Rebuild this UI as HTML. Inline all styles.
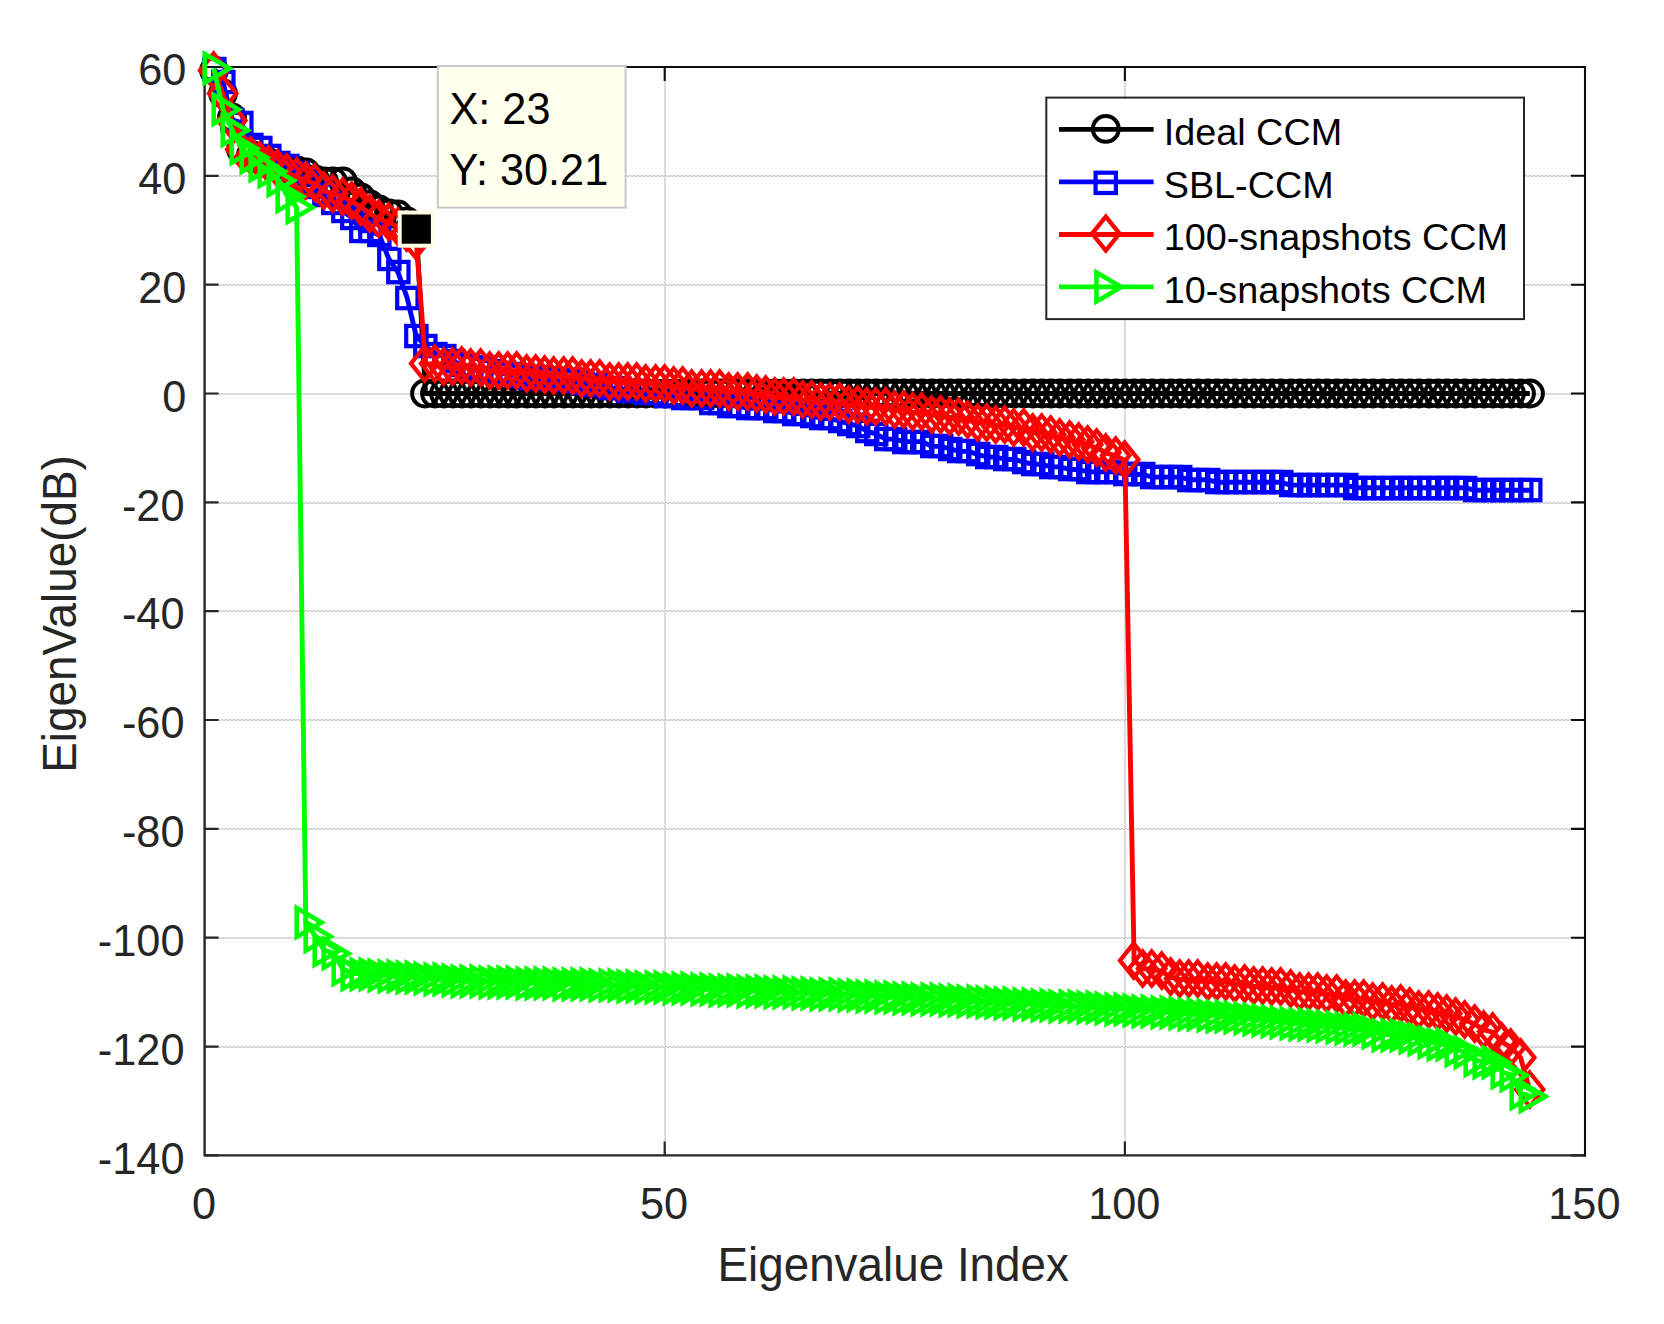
<!DOCTYPE html>
<html><head><meta charset="utf-8"><title>Eigenvalue plot</title>
<style>html,body{margin:0;padding:0;background:#fff;}body{width:1664px;height:1324px;overflow:hidden;}svg{display:block;}</style>
</head><body>
<svg width="1664" height="1324" viewBox="0 0 1664 1324">
<rect width="1664" height="1324" fill="#ffffff"/>
<g fill="none"><path d="M665 67.0V1155.4M1125 67.0V1155.4M204.6 176H1585.0M204.6 285H1585.0M204.6 394H1585.0M204.6 503H1585.0M204.6 611H1585.0M204.6 720H1585.0M204.6 829H1585.0M204.6 938H1585.0M204.6 1047H1585.0" stroke="#ebebeb" stroke-width="2"/>
<path d="M664.5 67.0V1155.4M1124.5 67.0V1155.4" stroke="#cecece" stroke-width="1" stroke-dasharray="1 1"/>
<path d="M665.5 67.0V1155.4M1125.5 67.0V1155.4" stroke="#cecece" stroke-width="1" stroke-dasharray="1 1" stroke-dashoffset="1"/>
<path d="M205 175.5H1585.0M205 284.5H1585.0M205 393.5H1585.0M205 502.5H1585.0M205 610.5H1585.0M205 719.5H1585.0M205 828.5H1585.0M205 937.5H1585.0M205 1046.5H1585.0" stroke="#cacaca" stroke-width="1" stroke-dasharray="2 2"/>
<path d="M205 176.5H1585.0M205 285.5H1585.0M205 394.5H1585.0M205 503.5H1585.0M205 611.5H1585.0M205 720.5H1585.0M205 829.5H1585.0M205 938.5H1585.0M205 1047.5H1585.0" stroke="#cacaca" stroke-width="1" stroke-dasharray="2 2" stroke-dashoffset="2"/></g>
<path d="M664.7 1155.4v-14M1124.9 1155.4v-14M204.6 67.0h14M204.6 175.8h14M204.6 284.7h14M204.6 393.5h14M204.6 502.4h14M204.6 611.2h14M204.6 720.0h14M204.6 828.9h14M204.6 937.7h14M204.6 1046.6h14M204.6 1155.4h14" stroke="#262626" stroke-width="2.2" fill="none"/>
<path d="M664.7 67.0v14M1124.9 67.0v14M1585.0 67.0h-14M1585.0 175.8h-14M1585.0 284.7h-14M1585.0 393.5h-14M1585.0 502.4h-14M1585.0 611.2h-14M1585.0 720.0h-14M1585.0 828.9h-14M1585.0 937.7h-14M1585.0 1046.6h-14M1585.0 1155.4h-14" stroke="#0d0d0d" stroke-width="2.1" fill="none"/>
<path d="M204.6 66.0V1155.4H1586.0" fill="none" stroke="#262626" stroke-width="2.4" stroke-linejoin="round"/>
<path d="M203.4 67.0H1585.0V1156.6000000000001" fill="none" stroke="#0d0d0d" stroke-width="2.1"/>
<g font-family="Liberation Sans, sans-serif" font-size="43.3" fill="#262626">
<text transform="translate(186.4,85.1) scale(1,1.02)" text-anchor="end">60</text>
<text transform="translate(186.4,193.9) scale(1,1.02)" text-anchor="end">40</text>
<text transform="translate(186.4,302.8) scale(1,1.02)" text-anchor="end">20</text>
<text transform="translate(186.4,411.6) scale(1,1.02)" text-anchor="end">0</text>
<text transform="translate(184.5,520.5) scale(1,1.02)" text-anchor="end">-20</text>
<text transform="translate(184.5,629.3) scale(1,1.02)" text-anchor="end">-40</text>
<text transform="translate(184.5,738.1) scale(1,1.02)" text-anchor="end">-60</text>
<text transform="translate(184.5,847.0) scale(1,1.02)" text-anchor="end">-80</text>
<text transform="translate(184.5,955.8) scale(1,1.02)" text-anchor="end">-100</text>
<text transform="translate(184.5,1064.7) scale(1,1.02)" text-anchor="end">-120</text>
<text transform="translate(184.5,1173.5) scale(1,1.02)" text-anchor="end">-140</text>
<text transform="translate(204.0,1218.9) scale(1,1.02)" text-anchor="middle">0</text>
<text transform="translate(664.1,1218.9) scale(1,1.02)" text-anchor="middle">50</text>
<text transform="translate(1124.3,1218.9) scale(1,1.02)" text-anchor="middle">100</text>
<text transform="translate(1584.4,1218.9) scale(1,1.02)" text-anchor="middle">150</text>
</g>
<text transform="translate(893.2,1280.8) scale(1,1.035)" text-anchor="middle" font-family="Liberation Sans, sans-serif" font-size="45.83" fill="#262626">Eigenvalue Index</text>
<text transform="translate(76.3,614) rotate(-90) scale(1,1.035)" text-anchor="middle" font-family="Liberation Sans, sans-serif" font-size="45.83" fill="#262626">EigenValue(dB)</text>
<g stroke="#000000" fill="none" stroke-linejoin="miter" stroke-miterlimit="10">
<polyline points="213.8,71.4 223.0,93.7 232.2,118.2 241.4,149.7 250.6,155.2 259.8,159.5 269.0,162.8 278.2,166.0 287.4,168.8 296.6,171.2 305.8,172.6 315.0,180.2 324.2,182.4 333.4,182.4 342.6,182.4 351.8,192.2 361.0,198.4 370.2,204.7 379.5,209.6 388.7,214.5 397.9,215.0 407.1,222.1 416.3,229.1 425.5,393.5 434.7,393.5 443.9,393.5 453.1,393.5 462.3,393.5 471.5,393.5 480.7,393.5 489.9,393.5 499.1,393.5 508.3,393.5 517.5,393.5 526.7,393.5 535.9,393.5 545.1,393.5 554.3,393.5 563.5,393.5 572.7,393.5 581.9,393.5 591.1,393.5 600.3,393.5 609.5,393.5 618.7,393.5 627.9,393.5 637.1,393.5 646.3,393.5 655.5,393.5 664.7,393.5 673.9,393.5 683.1,393.5 692.3,393.5 701.5,393.5 710.7,393.5 719.9,393.5 729.2,393.5 738.4,393.5 747.6,393.5 756.8,393.5 766.0,393.5 775.2,393.5 784.4,393.5 793.6,393.5 802.8,393.5 812.0,393.5 821.2,393.5 830.4,393.5 839.6,393.5 848.8,393.5 858.0,393.5 867.2,393.5 876.4,393.5 885.6,393.5 894.8,393.5 904.0,393.5 913.2,393.5 922.4,393.5 931.6,393.5 940.8,393.5 950.0,393.5 959.2,393.5 968.4,393.5 977.6,393.5 986.8,393.5 996.0,393.5 1005.2,393.5 1014.4,393.5 1023.6,393.5 1032.8,393.5 1042.0,393.5 1051.2,393.5 1060.4,393.5 1069.7,393.5 1078.9,393.5 1088.1,393.5 1097.3,393.5 1106.5,393.5 1115.7,393.5 1124.9,393.5 1134.1,393.5 1143.3,393.5 1152.5,393.5 1161.7,393.5 1170.9,393.5 1180.1,393.5 1189.3,393.5 1198.5,393.5 1207.7,393.5 1216.9,393.5 1226.1,393.5 1235.3,393.5 1244.5,393.5 1253.7,393.5 1262.9,393.5 1272.1,393.5 1281.3,393.5 1290.5,393.5 1299.7,393.5 1308.9,393.5 1318.1,393.5 1327.3,393.5 1336.5,393.5 1345.7,393.5 1354.9,393.5 1364.1,393.5 1373.3,393.5 1382.5,393.5 1391.7,393.5 1400.9,393.5 1410.1,393.5 1419.4,393.5 1428.6,393.5 1437.8,393.5 1447.0,393.5 1456.2,393.5 1465.4,393.5 1474.6,393.5 1483.8,393.5 1493.0,393.5 1502.2,393.5 1511.4,393.5 1520.6,393.5 1529.8,393.5" stroke-width="4.9" stroke-linejoin="round"/>
<g stroke-width="4.0">
<circle cx="214.0" cy="70.5" r="12.9"/>
<circle cx="223.0" cy="93.5" r="12.9"/>
<circle cx="232.0" cy="117.5" r="12.9"/>
<circle cx="241.0" cy="149.5" r="12.9"/>
<circle cx="251.0" cy="154.5" r="12.9"/>
<circle cx="260.0" cy="159.5" r="12.9"/>
<circle cx="269.0" cy="162.5" r="12.9"/>
<circle cx="278.0" cy="165.5" r="12.9"/>
<circle cx="287.0" cy="168.5" r="12.9"/>
<circle cx="297.0" cy="170.5" r="12.9"/>
<circle cx="306.0" cy="172.5" r="12.9"/>
<circle cx="315.0" cy="179.5" r="12.9"/>
<circle cx="324.0" cy="181.5" r="12.9"/>
<circle cx="333.0" cy="181.5" r="12.9"/>
<circle cx="343.0" cy="181.5" r="12.9"/>
<circle cx="352.0" cy="191.5" r="12.9"/>
<circle cx="361.0" cy="197.5" r="12.9"/>
<circle cx="370.0" cy="204.5" r="12.9"/>
<circle cx="379.0" cy="209.5" r="12.9"/>
<circle cx="389.0" cy="213.5" r="12.9"/>
<circle cx="398.0" cy="214.5" r="12.9"/>
<circle cx="407.0" cy="221.5" r="12.9"/>
<circle cx="416.0" cy="228.5" r="12.9"/>
<circle cx="425.0" cy="393.5" r="12.9"/>
<circle cx="435.0" cy="393.5" r="12.9"/>
<circle cx="444.0" cy="393.5" r="12.9"/>
<circle cx="453.0" cy="393.5" r="12.9"/>
<circle cx="462.0" cy="393.5" r="12.9"/>
<circle cx="471.0" cy="393.5" r="12.9"/>
<circle cx="481.0" cy="393.5" r="12.9"/>
<circle cx="490.0" cy="393.5" r="12.9"/>
<circle cx="499.0" cy="393.5" r="12.9"/>
<circle cx="508.0" cy="393.5" r="12.9"/>
<circle cx="517.0" cy="393.5" r="12.9"/>
<circle cx="527.0" cy="393.5" r="12.9"/>
<circle cx="536.0" cy="393.5" r="12.9"/>
<circle cx="545.0" cy="393.5" r="12.9"/>
<circle cx="554.0" cy="393.5" r="12.9"/>
<circle cx="564.0" cy="393.5" r="12.9"/>
<circle cx="573.0" cy="393.5" r="12.9"/>
<circle cx="582.0" cy="393.5" r="12.9"/>
<circle cx="591.0" cy="393.5" r="12.9"/>
<circle cx="600.0" cy="393.5" r="12.9"/>
<circle cx="610.0" cy="393.5" r="12.9"/>
<circle cx="619.0" cy="393.5" r="12.9"/>
<circle cx="628.0" cy="393.5" r="12.9"/>
<circle cx="637.0" cy="393.5" r="12.9"/>
<circle cx="646.0" cy="393.5" r="12.9"/>
<circle cx="656.0" cy="393.5" r="12.9"/>
<circle cx="665.0" cy="393.5" r="12.9"/>
<circle cx="674.0" cy="393.5" r="12.9"/>
<circle cx="683.0" cy="393.5" r="12.9"/>
<circle cx="692.0" cy="393.5" r="12.9"/>
<circle cx="702.0" cy="393.5" r="12.9"/>
<circle cx="711.0" cy="393.5" r="12.9"/>
<circle cx="720.0" cy="393.5" r="12.9"/>
<circle cx="729.0" cy="393.5" r="12.9"/>
<circle cx="738.0" cy="393.5" r="12.9"/>
<circle cx="748.0" cy="393.5" r="12.9"/>
<circle cx="757.0" cy="393.5" r="12.9"/>
<circle cx="766.0" cy="393.5" r="12.9"/>
<circle cx="775.0" cy="393.5" r="12.9"/>
<circle cx="784.0" cy="393.5" r="12.9"/>
<circle cx="794.0" cy="393.5" r="12.9"/>
<circle cx="803.0" cy="393.5" r="12.9"/>
<circle cx="812.0" cy="393.5" r="12.9"/>
<circle cx="821.0" cy="393.5" r="12.9"/>
<circle cx="830.0" cy="393.5" r="12.9"/>
<circle cx="840.0" cy="393.5" r="12.9"/>
<circle cx="849.0" cy="393.5" r="12.9"/>
<circle cx="858.0" cy="393.5" r="12.9"/>
<circle cx="867.0" cy="393.5" r="12.9"/>
<circle cx="876.0" cy="393.5" r="12.9"/>
<circle cx="886.0" cy="393.5" r="12.9"/>
<circle cx="895.0" cy="393.5" r="12.9"/>
<circle cx="904.0" cy="393.5" r="12.9"/>
<circle cx="913.0" cy="393.5" r="12.9"/>
<circle cx="922.0" cy="393.5" r="12.9"/>
<circle cx="932.0" cy="393.5" r="12.9"/>
<circle cx="941.0" cy="393.5" r="12.9"/>
<circle cx="950.0" cy="393.5" r="12.9"/>
<circle cx="959.0" cy="393.5" r="12.9"/>
<circle cx="968.0" cy="393.5" r="12.9"/>
<circle cx="978.0" cy="393.5" r="12.9"/>
<circle cx="987.0" cy="393.5" r="12.9"/>
<circle cx="996.0" cy="393.5" r="12.9"/>
<circle cx="1005.0" cy="393.5" r="12.9"/>
<circle cx="1014.0" cy="393.5" r="12.9"/>
<circle cx="1024.0" cy="393.5" r="12.9"/>
<circle cx="1033.0" cy="393.5" r="12.9"/>
<circle cx="1042.0" cy="393.5" r="12.9"/>
<circle cx="1051.0" cy="393.5" r="12.9"/>
<circle cx="1060.0" cy="393.5" r="12.9"/>
<circle cx="1070.0" cy="393.5" r="12.9"/>
<circle cx="1079.0" cy="393.5" r="12.9"/>
<circle cx="1088.0" cy="393.5" r="12.9"/>
<circle cx="1097.0" cy="393.5" r="12.9"/>
<circle cx="1106.0" cy="393.5" r="12.9"/>
<circle cx="1116.0" cy="393.5" r="12.9"/>
<circle cx="1125.0" cy="393.5" r="12.9"/>
<circle cx="1134.0" cy="393.5" r="12.9"/>
<circle cx="1143.0" cy="393.5" r="12.9"/>
<circle cx="1152.0" cy="393.5" r="12.9"/>
<circle cx="1162.0" cy="393.5" r="12.9"/>
<circle cx="1171.0" cy="393.5" r="12.9"/>
<circle cx="1180.0" cy="393.5" r="12.9"/>
<circle cx="1189.0" cy="393.5" r="12.9"/>
<circle cx="1198.0" cy="393.5" r="12.9"/>
<circle cx="1208.0" cy="393.5" r="12.9"/>
<circle cx="1217.0" cy="393.5" r="12.9"/>
<circle cx="1226.0" cy="393.5" r="12.9"/>
<circle cx="1235.0" cy="393.5" r="12.9"/>
<circle cx="1245.0" cy="393.5" r="12.9"/>
<circle cx="1254.0" cy="393.5" r="12.9"/>
<circle cx="1263.0" cy="393.5" r="12.9"/>
<circle cx="1272.0" cy="393.5" r="12.9"/>
<circle cx="1281.0" cy="393.5" r="12.9"/>
<circle cx="1291.0" cy="393.5" r="12.9"/>
<circle cx="1300.0" cy="393.5" r="12.9"/>
<circle cx="1309.0" cy="393.5" r="12.9"/>
<circle cx="1318.0" cy="393.5" r="12.9"/>
<circle cx="1327.0" cy="393.5" r="12.9"/>
<circle cx="1337.0" cy="393.5" r="12.9"/>
<circle cx="1346.0" cy="393.5" r="12.9"/>
<circle cx="1355.0" cy="393.5" r="12.9"/>
<circle cx="1364.0" cy="393.5" r="12.9"/>
<circle cx="1373.0" cy="393.5" r="12.9"/>
<circle cx="1383.0" cy="393.5" r="12.9"/>
<circle cx="1392.0" cy="393.5" r="12.9"/>
<circle cx="1401.0" cy="393.5" r="12.9"/>
<circle cx="1410.0" cy="393.5" r="12.9"/>
<circle cx="1419.0" cy="393.5" r="12.9"/>
<circle cx="1429.0" cy="393.5" r="12.9"/>
<circle cx="1438.0" cy="393.5" r="12.9"/>
<circle cx="1447.0" cy="393.5" r="12.9"/>
<circle cx="1456.0" cy="393.5" r="12.9"/>
<circle cx="1465.0" cy="393.5" r="12.9"/>
<circle cx="1475.0" cy="393.5" r="12.9"/>
<circle cx="1484.0" cy="393.5" r="12.9"/>
<circle cx="1493.0" cy="393.5" r="12.9"/>
<circle cx="1502.0" cy="393.5" r="12.9"/>
<circle cx="1511.0" cy="393.5" r="12.9"/>
<circle cx="1521.0" cy="393.5" r="12.9"/>
<circle cx="1530.0" cy="393.5" r="12.9"/>
</g></g>
<g stroke="#0000ff" fill="none" stroke-linejoin="miter" stroke-miterlimit="10">
<polyline points="213.8,68.6 223.0,81.9 232.2,119.8 241.4,122.7 250.6,145.0 259.8,147.8 269.0,155.9 278.2,163.3 287.4,166.0 296.6,172.6 305.8,179.6 315.0,187.3 324.2,195.4 333.4,203.1 342.6,210.7 351.8,217.7 361.0,230.8 370.2,230.8 379.5,235.4 388.7,258.6 397.9,272.2 407.1,297.7 416.3,336.4 425.5,346.0 434.7,354.1 443.9,356.1 453.1,361.4 462.3,364.7 471.5,366.9 480.7,369.0 489.9,371.2 499.1,372.8 508.3,374.5 517.5,376.1 526.7,377.7 535.9,378.3 545.1,378.8 554.3,379.4 563.5,379.9 572.7,381.3 581.9,382.6 591.1,385.4 600.3,385.4 609.5,388.2 618.7,388.2 627.9,390.8 637.1,390.8 646.3,393.3 655.5,393.3 664.7,395.9 673.9,395.9 683.1,398.3 692.3,398.3 701.5,398.3 710.7,403.4 719.9,403.4 729.2,405.8 738.4,405.8 747.6,408.4 756.8,408.4 766.0,408.4 775.2,411.0 784.4,411.0 793.6,413.6 802.8,413.6 812.0,416.0 821.2,418.5 830.4,418.5 839.6,421.1 848.8,423.6 858.0,426.2 867.2,431.2 876.4,434.1 885.6,439.1 894.8,439.1 904.0,441.6 913.2,441.6 922.4,441.6 931.6,446.4 940.8,446.4 950.0,448.8 959.2,451.4 968.4,451.4 977.6,454.3 986.8,457.0 996.0,457.0 1005.2,459.5 1014.4,459.5 1023.6,461.8 1032.8,464.3 1042.0,464.3 1051.2,466.9 1060.4,466.9 1069.7,469.5 1078.9,469.5 1088.1,471.9 1097.3,471.9 1106.5,471.9 1115.7,471.9 1124.9,474.5 1134.1,474.5 1143.3,474.5 1152.5,477.1 1161.7,477.1 1170.9,477.1 1180.1,477.1 1189.3,479.7 1198.5,479.7 1207.7,479.7 1216.9,482.3 1226.1,482.3 1235.3,482.3 1244.5,482.3 1253.7,482.3 1262.9,482.3 1272.1,482.3 1281.3,482.3 1290.5,485.1 1299.7,485.1 1308.9,485.1 1318.1,485.1 1327.3,485.1 1336.5,485.1 1345.7,485.1 1354.9,487.7 1364.1,487.7 1373.3,487.7 1382.5,487.7 1391.7,487.7 1400.9,487.7 1410.1,487.7 1419.4,487.7 1428.6,487.7 1437.8,487.7 1447.0,487.7 1456.2,487.7 1465.4,487.7 1474.6,490.3 1483.8,490.3 1493.0,490.3 1502.2,490.3 1511.4,490.3 1520.6,490.3 1529.8,490.3" stroke-width="4.9" stroke-linejoin="round"/>
<g stroke-width="4.2">
<rect x="204.2" y="58.9" width="20.3" height="20.3"/>
<rect x="213.2" y="71.8" width="20.3" height="20.3"/>
<rect x="222.2" y="109.8" width="20.3" height="20.3"/>
<rect x="231.2" y="112.8" width="20.3" height="20.3"/>
<rect x="241.2" y="134.8" width="20.3" height="20.3"/>
<rect x="250.2" y="137.8" width="20.3" height="20.3"/>
<rect x="259.2" y="145.8" width="20.3" height="20.3"/>
<rect x="268.2" y="152.8" width="20.3" height="20.3"/>
<rect x="277.2" y="155.8" width="20.3" height="20.3"/>
<rect x="287.2" y="162.8" width="20.3" height="20.3"/>
<rect x="296.2" y="169.8" width="20.3" height="20.3"/>
<rect x="305.2" y="176.8" width="20.3" height="20.3"/>
<rect x="314.2" y="184.8" width="20.3" height="20.3"/>
<rect x="323.2" y="192.8" width="20.3" height="20.3"/>
<rect x="333.2" y="200.8" width="20.3" height="20.3"/>
<rect x="342.2" y="207.8" width="20.3" height="20.3"/>
<rect x="351.2" y="220.8" width="20.3" height="20.3"/>
<rect x="360.2" y="220.8" width="20.3" height="20.3"/>
<rect x="369.2" y="224.8" width="20.3" height="20.3"/>
<rect x="379.2" y="248.8" width="20.3" height="20.3"/>
<rect x="388.2" y="261.9" width="20.3" height="20.3"/>
<rect x="397.2" y="287.9" width="20.3" height="20.3"/>
<rect x="406.2" y="325.9" width="20.3" height="20.3"/>
<rect x="415.2" y="335.9" width="20.3" height="20.3"/>
<rect x="425.2" y="343.9" width="20.3" height="20.3"/>
<rect x="434.2" y="345.9" width="20.3" height="20.3"/>
<rect x="443.2" y="350.9" width="20.3" height="20.3"/>
<rect x="452.2" y="354.9" width="20.3" height="20.3"/>
<rect x="461.2" y="356.9" width="20.3" height="20.3"/>
<rect x="471.2" y="358.9" width="20.3" height="20.3"/>
<rect x="480.2" y="360.9" width="20.3" height="20.3"/>
<rect x="489.2" y="362.9" width="20.3" height="20.3"/>
<rect x="498.2" y="363.9" width="20.3" height="20.3"/>
<rect x="507.1" y="365.9" width="20.3" height="20.3"/>
<rect x="517.1" y="367.9" width="20.3" height="20.3"/>
<rect x="526.1" y="367.9" width="20.3" height="20.3"/>
<rect x="535.1" y="368.9" width="20.3" height="20.3"/>
<rect x="544.1" y="368.9" width="20.3" height="20.3"/>
<rect x="554.1" y="369.9" width="20.3" height="20.3"/>
<rect x="563.1" y="370.9" width="20.3" height="20.3"/>
<rect x="572.1" y="372.9" width="20.3" height="20.3"/>
<rect x="581.1" y="374.9" width="20.3" height="20.3"/>
<rect x="590.1" y="374.9" width="20.3" height="20.3"/>
<rect x="600.1" y="377.9" width="20.3" height="20.3"/>
<rect x="609.1" y="377.9" width="20.3" height="20.3"/>
<rect x="618.1" y="380.9" width="20.3" height="20.3"/>
<rect x="627.1" y="380.9" width="20.3" height="20.3"/>
<rect x="636.1" y="382.9" width="20.3" height="20.3"/>
<rect x="646.1" y="382.9" width="20.3" height="20.3"/>
<rect x="655.1" y="385.9" width="20.3" height="20.3"/>
<rect x="664.1" y="385.9" width="20.3" height="20.3"/>
<rect x="673.1" y="387.9" width="20.3" height="20.3"/>
<rect x="682.1" y="387.9" width="20.3" height="20.3"/>
<rect x="692.1" y="387.9" width="20.3" height="20.3"/>
<rect x="701.1" y="392.9" width="20.3" height="20.3"/>
<rect x="710.1" y="392.9" width="20.3" height="20.3"/>
<rect x="719.1" y="395.9" width="20.3" height="20.3"/>
<rect x="728.1" y="395.9" width="20.3" height="20.3"/>
<rect x="738.1" y="397.9" width="20.3" height="20.3"/>
<rect x="747.1" y="397.9" width="20.3" height="20.3"/>
<rect x="756.1" y="397.9" width="20.3" height="20.3"/>
<rect x="765.1" y="400.9" width="20.3" height="20.3"/>
<rect x="774.1" y="400.9" width="20.3" height="20.3"/>
<rect x="784.1" y="403.9" width="20.3" height="20.3"/>
<rect x="793.1" y="403.9" width="20.3" height="20.3"/>
<rect x="802.1" y="405.9" width="20.3" height="20.3"/>
<rect x="811.1" y="407.9" width="20.3" height="20.3"/>
<rect x="820.1" y="407.9" width="20.3" height="20.3"/>
<rect x="830.1" y="410.9" width="20.3" height="20.3"/>
<rect x="839.1" y="413.9" width="20.3" height="20.3"/>
<rect x="848.1" y="415.9" width="20.3" height="20.3"/>
<rect x="857.1" y="420.9" width="20.3" height="20.3"/>
<rect x="866.1" y="423.9" width="20.3" height="20.3"/>
<rect x="876.1" y="428.9" width="20.3" height="20.3"/>
<rect x="885.1" y="428.9" width="20.3" height="20.3"/>
<rect x="894.1" y="431.9" width="20.3" height="20.3"/>
<rect x="903.1" y="431.9" width="20.3" height="20.3"/>
<rect x="912.1" y="431.9" width="20.3" height="20.3"/>
<rect x="922.1" y="435.9" width="20.3" height="20.3"/>
<rect x="931.1" y="435.9" width="20.3" height="20.3"/>
<rect x="940.1" y="438.9" width="20.3" height="20.3"/>
<rect x="949.1" y="440.9" width="20.3" height="20.3"/>
<rect x="958.1" y="440.9" width="20.3" height="20.3"/>
<rect x="968.1" y="443.9" width="20.3" height="20.3"/>
<rect x="977.1" y="446.9" width="20.3" height="20.3"/>
<rect x="986.1" y="446.9" width="20.3" height="20.3"/>
<rect x="995.1" y="448.9" width="20.3" height="20.3"/>
<rect x="1004.1" y="448.9" width="20.3" height="20.3"/>
<rect x="1014.1" y="451.9" width="20.3" height="20.3"/>
<rect x="1023.1" y="453.9" width="20.3" height="20.3"/>
<rect x="1032.1" y="453.9" width="20.3" height="20.3"/>
<rect x="1041.1" y="456.9" width="20.3" height="20.3"/>
<rect x="1050.1" y="456.9" width="20.3" height="20.3"/>
<rect x="1060.1" y="458.9" width="20.3" height="20.3"/>
<rect x="1069.1" y="458.9" width="20.3" height="20.3"/>
<rect x="1078.1" y="461.9" width="20.3" height="20.3"/>
<rect x="1087.1" y="461.9" width="20.3" height="20.3"/>
<rect x="1096.1" y="461.9" width="20.3" height="20.3"/>
<rect x="1106.1" y="461.9" width="20.3" height="20.3"/>
<rect x="1115.1" y="463.9" width="20.3" height="20.3"/>
<rect x="1124.1" y="463.9" width="20.3" height="20.3"/>
<rect x="1133.1" y="463.9" width="20.3" height="20.3"/>
<rect x="1142.1" y="466.9" width="20.3" height="20.3"/>
<rect x="1152.1" y="466.9" width="20.3" height="20.3"/>
<rect x="1161.1" y="466.9" width="20.3" height="20.3"/>
<rect x="1170.1" y="466.9" width="20.3" height="20.3"/>
<rect x="1179.1" y="469.9" width="20.3" height="20.3"/>
<rect x="1188.1" y="469.9" width="20.3" height="20.3"/>
<rect x="1198.1" y="469.9" width="20.3" height="20.3"/>
<rect x="1207.1" y="471.9" width="20.3" height="20.3"/>
<rect x="1216.1" y="471.9" width="20.3" height="20.3"/>
<rect x="1225.1" y="471.9" width="20.3" height="20.3"/>
<rect x="1235.1" y="471.9" width="20.3" height="20.3"/>
<rect x="1244.1" y="471.9" width="20.3" height="20.3"/>
<rect x="1253.1" y="471.9" width="20.3" height="20.3"/>
<rect x="1262.1" y="471.9" width="20.3" height="20.3"/>
<rect x="1271.1" y="471.9" width="20.3" height="20.3"/>
<rect x="1281.1" y="474.9" width="20.3" height="20.3"/>
<rect x="1290.1" y="474.9" width="20.3" height="20.3"/>
<rect x="1299.1" y="474.9" width="20.3" height="20.3"/>
<rect x="1308.1" y="474.9" width="20.3" height="20.3"/>
<rect x="1317.1" y="474.9" width="20.3" height="20.3"/>
<rect x="1327.1" y="474.9" width="20.3" height="20.3"/>
<rect x="1336.1" y="474.9" width="20.3" height="20.3"/>
<rect x="1345.1" y="477.9" width="20.3" height="20.3"/>
<rect x="1354.1" y="477.9" width="20.3" height="20.3"/>
<rect x="1363.1" y="477.9" width="20.3" height="20.3"/>
<rect x="1373.1" y="477.9" width="20.3" height="20.3"/>
<rect x="1382.1" y="477.9" width="20.3" height="20.3"/>
<rect x="1391.1" y="477.9" width="20.3" height="20.3"/>
<rect x="1400.1" y="477.9" width="20.3" height="20.3"/>
<rect x="1409.1" y="477.9" width="20.3" height="20.3"/>
<rect x="1419.1" y="477.9" width="20.3" height="20.3"/>
<rect x="1428.1" y="477.9" width="20.3" height="20.3"/>
<rect x="1437.1" y="477.9" width="20.3" height="20.3"/>
<rect x="1446.1" y="477.9" width="20.3" height="20.3"/>
<rect x="1455.1" y="477.9" width="20.3" height="20.3"/>
<rect x="1465.1" y="479.9" width="20.3" height="20.3"/>
<rect x="1474.1" y="479.9" width="20.3" height="20.3"/>
<rect x="1483.1" y="479.9" width="20.3" height="20.3"/>
<rect x="1492.1" y="479.9" width="20.3" height="20.3"/>
<rect x="1501.1" y="479.9" width="20.3" height="20.3"/>
<rect x="1511.1" y="479.9" width="20.3" height="20.3"/>
<rect x="1520.1" y="479.9" width="20.3" height="20.3"/>
</g></g>
<g stroke="#ff0000" fill="none" stroke-linejoin="miter" stroke-miterlimit="10">
<polyline points="213.8,71.4 223.0,93.9 232.2,121.4 241.4,149.7 250.6,156.2 259.8,161.1 269.0,165.0 278.2,168.8 287.4,173.1 296.6,176.9 305.8,180.7 315.0,183.5 324.2,191.1 333.4,193.8 342.6,196.5 351.8,201.4 361.0,206.9 370.2,213.9 379.5,219.4 388.7,222.1 397.9,227.0 407.1,233.0 416.3,241.1 425.5,363.6 434.7,364.4 443.9,366.9 453.1,366.9 462.3,366.3 471.5,368.5 480.7,368.5 489.9,371.3 499.1,371.3 508.3,371.3 517.5,371.3 526.7,373.9 535.9,373.9 545.1,374.7 554.3,376.2 563.5,376.2 572.7,376.2 581.9,379.0 591.1,379.0 600.3,379.0 609.5,381.6 618.7,381.6 627.9,381.6 637.1,381.6 646.3,384.1 655.5,384.1 664.7,384.1 673.9,386.5 683.1,386.5 692.3,389.1 701.5,389.1 710.7,389.1 719.9,389.1 729.2,391.7 738.4,391.7 747.6,391.7 756.8,394.2 766.0,394.6 775.2,397.2 784.4,397.2 793.6,397.2 802.8,399.9 812.0,399.9 821.2,402.3 830.4,402.3 839.6,402.3 848.8,404.9 858.0,404.9 867.2,407.4 876.4,407.4 885.6,407.4 894.8,410.0 904.0,410.0 913.2,412.4 922.4,412.4 931.6,415.0 940.8,415.0 950.0,417.5 959.2,417.5 968.4,420.2 977.6,422.6 986.8,422.6 996.0,425.2 1005.2,425.2 1014.4,427.8 1023.6,427.8 1032.8,432.9 1042.0,432.9 1051.2,435.4 1060.4,437.9 1069.7,440.0 1078.9,442.5 1088.1,445.4 1097.3,448.0 1106.5,453.1 1115.7,455.9 1124.9,460.5 1134.1,960.6 1143.3,968.7 1152.5,968.7 1161.7,971.5 1170.9,977.4 1180.1,979.4 1189.3,979.4 1198.5,979.4 1207.7,981.7 1216.9,981.7 1226.1,981.7 1235.3,984.0 1244.5,984.0 1253.7,986.4 1262.9,986.4 1272.1,987.1 1281.3,987.1 1290.5,989.4 1299.7,991.8 1308.9,991.8 1318.1,991.8 1327.3,994.2 1336.5,994.2 1345.7,999.2 1354.9,999.2 1364.1,999.2 1373.3,1001.7 1382.5,1001.7 1391.7,1004.7 1400.9,1004.1 1410.1,1007.1 1419.4,1009.6 1428.6,1009.6 1437.8,1012.3 1447.0,1014.5 1456.2,1017.2 1465.4,1019.9 1474.6,1024.2 1483.8,1029.7 1493.0,1032.4 1502.2,1042.2 1511.4,1047.6 1520.6,1057.7 1529.8,1090.1" stroke-width="4.9" stroke-linejoin="round"/>
<g stroke-width="4.3">
<path d="M213.7 53.5L227.4 70.5L213.7 87.5L200.0 70.5Z"/>
<path d="M222.7 76.5L236.4 93.5L222.7 110.5L209.0 93.5Z"/>
<path d="M231.7 103.5L245.4 120.5L231.7 137.5L218.0 120.5Z"/>
<path d="M240.7 132.5L254.4 149.5L240.7 166.5L227.0 149.5Z"/>
<path d="M250.7 138.5L264.4 155.5L250.7 172.5L237.0 155.5Z"/>
<path d="M259.7 143.5L273.4 160.5L259.7 177.5L246.0 160.5Z"/>
<path d="M268.7 147.5L282.4 164.5L268.7 181.5L255.0 164.5Z"/>
<path d="M277.7 151.5L291.4 168.5L277.7 185.5L264.0 168.5Z"/>
<path d="M286.7 155.5L300.4 172.5L286.7 189.5L273.0 172.5Z"/>
<path d="M296.7 159.5L310.4 176.5L296.7 193.5L283.0 176.5Z"/>
<path d="M305.7 163.5L319.4 180.5L305.7 197.5L292.0 180.5Z"/>
<path d="M314.7 165.5L328.4 182.5L314.7 199.5L301.0 182.5Z"/>
<path d="M323.7 173.5L337.4 190.5L323.7 207.5L310.0 190.5Z"/>
<path d="M332.7 176.5L346.4 193.5L332.7 210.5L319.0 193.5Z"/>
<path d="M342.7 179.5L356.4 196.5L342.7 213.5L329.0 196.5Z"/>
<path d="M351.7 183.5L365.4 200.5L351.7 217.5L338.0 200.5Z"/>
<path d="M360.7 189.5L374.4 206.5L360.7 223.5L347.0 206.5Z"/>
<path d="M369.7 196.5L383.4 213.5L369.7 230.5L356.0 213.5Z"/>
<path d="M378.7 201.5L392.4 218.5L378.7 235.5L365.0 218.5Z"/>
<path d="M388.7 204.5L402.4 221.5L388.7 238.5L375.0 221.5Z"/>
<path d="M397.7 209.5L411.4 226.5L397.7 243.5L384.0 226.5Z"/>
<path d="M406.7 215.5L420.4 232.5L406.7 249.5L393.0 232.5Z"/>
<path d="M415.7 223.5L429.4 240.5L415.7 257.5L402.0 240.5Z"/>
<path d="M424.7 346.5L438.4 363.5L424.7 380.5L411.0 363.5Z"/>
<path d="M434.7 346.5L448.4 363.5L434.7 380.5L421.0 363.5Z"/>
<path d="M443.7 349.5L457.4 366.5L443.7 383.5L430.0 366.5Z"/>
<path d="M452.7 349.5L466.4 366.5L452.7 383.5L439.0 366.5Z"/>
<path d="M461.7 348.5L475.4 365.5L461.7 382.5L448.0 365.5Z"/>
<path d="M470.7 350.5L484.4 367.5L470.7 384.5L457.0 367.5Z"/>
<path d="M480.7 350.5L494.4 367.5L480.7 384.5L467.0 367.5Z"/>
<path d="M489.7 353.5L503.4 370.5L489.7 387.5L476.0 370.5Z"/>
<path d="M498.7 353.5L512.4 370.5L498.7 387.5L485.0 370.5Z"/>
<path d="M507.7 353.5L521.4 370.5L507.7 387.5L494.0 370.5Z"/>
<path d="M516.7 353.5L530.4 370.5L516.7 387.5L503.0 370.5Z"/>
<path d="M526.7 356.5L540.4 373.5L526.7 390.5L513.0 373.5Z"/>
<path d="M535.7 356.5L549.4 373.5L535.7 390.5L522.0 373.5Z"/>
<path d="M544.7 357.5L558.4 374.5L544.7 391.5L531.0 374.5Z"/>
<path d="M553.7 358.5L567.4 375.5L553.7 392.5L540.0 375.5Z"/>
<path d="M563.7 358.5L577.4 375.5L563.7 392.5L550.0 375.5Z"/>
<path d="M572.7 358.5L586.4 375.5L572.7 392.5L559.0 375.5Z"/>
<path d="M581.7 361.5L595.4 378.5L581.7 395.5L568.0 378.5Z"/>
<path d="M590.7 361.5L604.4 378.5L590.7 395.5L577.0 378.5Z"/>
<path d="M599.7 361.5L613.4 378.5L599.7 395.5L586.0 378.5Z"/>
<path d="M609.7 364.5L623.4 381.5L609.7 398.5L596.0 381.5Z"/>
<path d="M618.7 364.5L632.4 381.5L618.7 398.5L605.0 381.5Z"/>
<path d="M627.7 364.5L641.4 381.5L627.7 398.5L614.0 381.5Z"/>
<path d="M636.7 364.5L650.4 381.5L636.7 398.5L623.0 381.5Z"/>
<path d="M645.7 366.5L659.4 383.5L645.7 400.5L632.0 383.5Z"/>
<path d="M655.7 366.5L669.4 383.5L655.7 400.5L642.0 383.5Z"/>
<path d="M664.7 366.5L678.4 383.5L664.7 400.5L651.0 383.5Z"/>
<path d="M673.7 368.5L687.4 385.5L673.7 402.5L660.0 385.5Z"/>
<path d="M682.7 368.5L696.4 385.5L682.7 402.5L669.0 385.5Z"/>
<path d="M691.7 371.5L705.4 388.5L691.7 405.5L678.0 388.5Z"/>
<path d="M701.7 371.5L715.4 388.5L701.7 405.5L688.0 388.5Z"/>
<path d="M710.7 371.5L724.4 388.5L710.7 405.5L697.0 388.5Z"/>
<path d="M719.7 371.5L733.4 388.5L719.7 405.5L706.0 388.5Z"/>
<path d="M728.7 374.5L742.4 391.5L728.7 408.5L715.0 391.5Z"/>
<path d="M737.7 374.5L751.4 391.5L737.7 408.5L724.0 391.5Z"/>
<path d="M747.7 374.5L761.4 391.5L747.7 408.5L734.0 391.5Z"/>
<path d="M756.7 376.5L770.4 393.5L756.7 410.5L743.0 393.5Z"/>
<path d="M765.7 377.5L779.4 394.5L765.7 411.5L752.0 394.5Z"/>
<path d="M774.7 379.5L788.4 396.5L774.7 413.5L761.0 396.5Z"/>
<path d="M783.7 379.5L797.4 396.5L783.7 413.5L770.0 396.5Z"/>
<path d="M793.7 379.5L807.4 396.5L793.7 413.5L780.0 396.5Z"/>
<path d="M802.7 382.5L816.4 399.5L802.7 416.5L789.0 399.5Z"/>
<path d="M811.7 382.5L825.4 399.5L811.7 416.5L798.0 399.5Z"/>
<path d="M820.7 384.5L834.4 401.5L820.7 418.5L807.0 401.5Z"/>
<path d="M829.7 384.5L843.4 401.5L829.7 418.5L816.0 401.5Z"/>
<path d="M839.7 384.5L853.4 401.5L839.7 418.5L826.0 401.5Z"/>
<path d="M848.7 387.5L862.4 404.5L848.7 421.5L835.0 404.5Z"/>
<path d="M857.7 387.5L871.4 404.5L857.7 421.5L844.0 404.5Z"/>
<path d="M866.7 389.5L880.4 406.5L866.7 423.5L853.0 406.5Z"/>
<path d="M875.7 389.5L889.4 406.5L875.7 423.5L862.0 406.5Z"/>
<path d="M885.7 389.5L899.4 406.5L885.7 423.5L872.0 406.5Z"/>
<path d="M894.7 392.5L908.4 409.5L894.7 426.5L881.0 409.5Z"/>
<path d="M903.7 392.5L917.4 409.5L903.7 426.5L890.0 409.5Z"/>
<path d="M912.7 394.5L926.4 411.5L912.7 428.5L899.0 411.5Z"/>
<path d="M921.7 394.5L935.4 411.5L921.7 428.5L908.0 411.5Z"/>
<path d="M931.7 397.5L945.4 414.5L931.7 431.5L918.0 414.5Z"/>
<path d="M940.7 397.5L954.4 414.5L940.7 431.5L927.0 414.5Z"/>
<path d="M949.7 399.5L963.4 416.5L949.7 433.5L936.0 416.5Z"/>
<path d="M958.7 399.5L972.4 416.5L958.7 433.5L945.0 416.5Z"/>
<path d="M967.7 402.5L981.4 419.5L967.7 436.5L954.0 419.5Z"/>
<path d="M977.7 405.5L991.4 422.5L977.7 439.5L964.0 422.5Z"/>
<path d="M986.7 405.5L1000.4 422.5L986.7 439.5L973.0 422.5Z"/>
<path d="M995.7 407.5L1009.4 424.5L995.7 441.5L982.0 424.5Z"/>
<path d="M1004.7 407.5L1018.4 424.5L1004.7 441.5L991.0 424.5Z"/>
<path d="M1013.7 410.5L1027.4 427.5L1013.7 444.5L1000.0 427.5Z"/>
<path d="M1023.7 410.5L1037.4 427.5L1023.7 444.5L1010.0 427.5Z"/>
<path d="M1032.7 415.5L1046.4 432.5L1032.7 449.5L1019.0 432.5Z"/>
<path d="M1041.7 415.5L1055.4 432.5L1041.7 449.5L1028.0 432.5Z"/>
<path d="M1050.7 417.5L1064.4 434.5L1050.7 451.5L1037.0 434.5Z"/>
<path d="M1059.7 420.5L1073.4 437.5L1059.7 454.5L1046.0 437.5Z"/>
<path d="M1069.7 422.5L1083.4 439.5L1069.7 456.5L1056.0 439.5Z"/>
<path d="M1078.7 424.5L1092.4 441.5L1078.7 458.5L1065.0 441.5Z"/>
<path d="M1087.7 427.5L1101.4 444.5L1087.7 461.5L1074.0 444.5Z"/>
<path d="M1096.7 430.5L1110.4 447.5L1096.7 464.5L1083.0 447.5Z"/>
<path d="M1105.7 435.5L1119.4 452.5L1105.7 469.5L1092.0 452.5Z"/>
<path d="M1115.7 438.5L1129.4 455.5L1115.7 472.5L1102.0 455.5Z"/>
<path d="M1124.7 442.5L1138.4 459.5L1124.7 476.5L1111.0 459.5Z"/>
<path d="M1133.7 943.5L1147.4 960.5L1133.7 977.5L1120.0 960.5Z"/>
<path d="M1142.7 951.5L1156.4 968.5L1142.7 985.5L1129.0 968.5Z"/>
<path d="M1151.7 951.5L1165.4 968.5L1151.7 985.5L1138.0 968.5Z"/>
<path d="M1161.7 953.5L1175.4 970.5L1161.7 987.5L1148.0 970.5Z"/>
<path d="M1170.7 959.5L1184.4 976.5L1170.7 993.5L1157.0 976.5Z"/>
<path d="M1179.7 961.5L1193.4 978.5L1179.7 995.5L1166.0 978.5Z"/>
<path d="M1188.7 961.5L1202.4 978.5L1188.7 995.5L1175.0 978.5Z"/>
<path d="M1197.7 961.5L1211.4 978.5L1197.7 995.5L1184.0 978.5Z"/>
<path d="M1207.7 964.5L1221.4 981.5L1207.7 998.5L1194.0 981.5Z"/>
<path d="M1216.7 964.5L1230.4 981.5L1216.7 998.5L1203.0 981.5Z"/>
<path d="M1225.7 964.5L1239.4 981.5L1225.7 998.5L1212.0 981.5Z"/>
<path d="M1234.7 966.5L1248.4 983.5L1234.7 1000.5L1221.0 983.5Z"/>
<path d="M1244.7 966.5L1258.4 983.5L1244.7 1000.5L1231.0 983.5Z"/>
<path d="M1253.7 968.5L1267.4 985.5L1253.7 1002.5L1240.0 985.5Z"/>
<path d="M1262.7 968.5L1276.4 985.5L1262.7 1002.5L1249.0 985.5Z"/>
<path d="M1271.7 969.5L1285.4 986.5L1271.7 1003.5L1258.0 986.5Z"/>
<path d="M1280.7 969.5L1294.4 986.5L1280.7 1003.5L1267.0 986.5Z"/>
<path d="M1290.7 971.5L1304.4 988.5L1290.7 1005.5L1277.0 988.5Z"/>
<path d="M1299.7 974.5L1313.4 991.5L1299.7 1008.5L1286.0 991.5Z"/>
<path d="M1308.7 974.5L1322.4 991.5L1308.7 1008.5L1295.0 991.5Z"/>
<path d="M1317.7 974.5L1331.4 991.5L1317.7 1008.5L1304.0 991.5Z"/>
<path d="M1326.7 976.5L1340.4 993.5L1326.7 1010.5L1313.0 993.5Z"/>
<path d="M1336.7 976.5L1350.4 993.5L1336.7 1010.5L1323.0 993.5Z"/>
<path d="M1345.7 981.5L1359.4 998.5L1345.7 1015.5L1332.0 998.5Z"/>
<path d="M1354.7 981.5L1368.4 998.5L1354.7 1015.5L1341.0 998.5Z"/>
<path d="M1363.7 981.5L1377.4 998.5L1363.7 1015.5L1350.0 998.5Z"/>
<path d="M1372.7 984.5L1386.4 1001.5L1372.7 1018.5L1359.0 1001.5Z"/>
<path d="M1382.7 984.5L1396.4 1001.5L1382.7 1018.5L1369.0 1001.5Z"/>
<path d="M1391.7 987.5L1405.4 1004.5L1391.7 1021.5L1378.0 1004.5Z"/>
<path d="M1400.7 986.5L1414.4 1003.5L1400.7 1020.5L1387.0 1003.5Z"/>
<path d="M1409.7 989.5L1423.4 1006.5L1409.7 1023.5L1396.0 1006.5Z"/>
<path d="M1418.7 992.5L1432.4 1009.5L1418.7 1026.5L1405.0 1009.5Z"/>
<path d="M1428.7 992.5L1442.4 1009.5L1428.7 1026.5L1415.0 1009.5Z"/>
<path d="M1437.7 994.5L1451.4 1011.5L1437.7 1028.5L1424.0 1011.5Z"/>
<path d="M1446.7 996.5L1460.4 1013.5L1446.7 1030.5L1433.0 1013.5Z"/>
<path d="M1455.7 999.5L1469.4 1016.5L1455.7 1033.5L1442.0 1016.5Z"/>
<path d="M1464.7 1002.5L1478.4 1019.5L1464.7 1036.5L1451.0 1019.5Z"/>
<path d="M1474.7 1006.5L1488.4 1023.5L1474.7 1040.5L1461.0 1023.5Z"/>
<path d="M1483.7 1012.5L1497.4 1029.5L1483.7 1046.5L1470.0 1029.5Z"/>
<path d="M1492.7 1014.5L1506.4 1031.5L1492.7 1048.5L1479.0 1031.5Z"/>
<path d="M1501.7 1024.5L1515.4 1041.5L1501.7 1058.5L1488.0 1041.5Z"/>
<path d="M1510.7 1030.5L1524.4 1047.5L1510.7 1064.5L1497.0 1047.5Z"/>
<path d="M1520.7 1040.5L1534.4 1057.5L1520.7 1074.5L1507.0 1057.5Z"/>
<path d="M1529.7 1072.5L1543.4 1089.5L1529.7 1106.5L1516.0 1089.5Z"/>
</g></g>
<g stroke="#00ff00" fill="none" stroke-linejoin="miter" stroke-miterlimit="10">
<polyline points="213.8,68.4 223.0,109.4 232.2,130.1 241.4,147.5 250.6,156.8 259.8,165.0 269.0,170.9 278.2,179.6 287.4,196.0 296.6,207.4 305.8,922.5 315.0,935.5 324.2,950.2 333.4,953.0 342.6,968.7 351.8,973.6 361.0,973.6 370.2,974.3 379.5,974.9 388.7,975.5 397.9,976.2 407.1,976.8 416.3,977.4 425.5,978.1 434.7,978.7 443.9,979.4 453.1,980.0 462.3,980.6 471.5,981.3 480.7,981.5 489.9,981.7 499.1,981.9 508.3,982.2 517.5,982.4 526.7,982.6 535.9,982.8 545.1,983.1 554.3,983.3 563.5,983.5 572.7,983.8 581.9,984.0 591.1,984.3 600.3,984.7 609.5,985.1 618.7,985.5 627.9,985.8 637.1,986.2 646.3,986.6 655.5,986.9 664.7,987.3 673.9,987.7 683.1,988.0 692.3,988.4 701.5,988.8 710.7,989.1 719.9,989.5 729.2,989.9 738.4,990.3 747.6,990.6 756.8,991.0 766.0,991.4 775.2,991.7 784.4,992.1 793.6,992.5 802.8,992.8 812.0,993.2 821.2,993.6 830.4,993.9 839.6,994.3 848.8,994.8 858.0,995.2 867.2,995.7 876.4,996.2 885.6,996.6 894.8,997.1 904.0,997.6 913.2,998.0 922.4,998.5 931.6,999.0 940.8,999.4 950.0,999.9 959.2,1000.4 968.4,1000.8 977.6,1001.3 986.8,1001.8 996.0,1002.2 1005.2,1002.7 1014.4,1003.2 1023.6,1003.6 1032.8,1004.1 1042.0,1004.6 1051.2,1005.0 1060.4,1005.5 1069.7,1006.0 1078.9,1006.4 1088.1,1006.9 1097.3,1007.4 1106.5,1008.0 1115.7,1008.6 1124.9,1009.3 1134.1,1009.9 1143.3,1010.5 1152.5,1011.1 1161.7,1011.8 1170.9,1012.4 1180.1,1013.0 1189.3,1013.7 1198.5,1014.3 1207.7,1014.9 1216.9,1015.5 1226.1,1016.4 1235.3,1017.3 1244.5,1018.2 1253.7,1019.1 1262.9,1020.0 1272.1,1020.9 1281.3,1021.8 1290.5,1022.7 1299.7,1023.6 1308.9,1024.5 1318.1,1025.4 1327.3,1026.3 1336.5,1027.2 1345.7,1028.1 1354.9,1029.4 1364.1,1029.4 1373.3,1032.4 1382.5,1034.6 1391.7,1034.6 1400.9,1034.6 1410.1,1036.8 1419.4,1039.5 1428.6,1041.7 1437.8,1044.1 1447.0,1044.1 1456.2,1049.6 1465.4,1052.0 1474.6,1059.6 1483.8,1062.3 1493.0,1062.3 1502.2,1072.1 1511.4,1074.9 1520.6,1093.1 1529.8,1095.8" stroke-width="4.9" stroke-linejoin="round"/>
<g stroke-width="4.6">
<path d="M204.7 54.0L229.6 68.4L204.7 82.8Z"/>
<path d="M213.7 95.0L238.6 109.4L213.7 123.8Z"/>
<path d="M222.7 116.0L247.6 130.4L222.7 144.8Z"/>
<path d="M231.7 134.0L256.6 148.4L231.7 162.8Z"/>
<path d="M241.7 143.0L266.6 157.4L241.7 171.8Z"/>
<path d="M250.7 151.0L275.6 165.4L250.7 179.8Z"/>
<path d="M259.7 157.0L284.6 171.4L259.7 185.8Z"/>
<path d="M268.7 166.0L293.6 180.4L268.7 194.8Z"/>
<path d="M277.7 182.0L302.6 196.4L277.7 210.8Z"/>
<path d="M287.7 193.0L312.6 207.4L287.7 221.8Z"/>
<path d="M296.7 908.0L321.6 922.4L296.7 936.8Z"/>
<path d="M305.7 922.0L330.6 936.4L305.7 950.8Z"/>
<path d="M314.7 936.0L339.6 950.4L314.7 964.8Z"/>
<path d="M323.7 939.0L348.6 953.4L323.7 967.8Z"/>
<path d="M333.7 955.0L358.6 969.4L333.7 983.8Z"/>
<path d="M342.7 960.0L367.6 974.4L342.7 988.8Z"/>
<path d="M351.7 960.0L376.6 974.4L351.7 988.8Z"/>
<path d="M360.7 960.0L385.6 974.4L360.7 988.8Z"/>
<path d="M369.7 961.0L394.6 975.4L369.7 989.8Z"/>
<path d="M379.7 962.0L404.6 976.4L379.7 990.8Z"/>
<path d="M388.7 962.0L413.6 976.4L388.7 990.8Z"/>
<path d="M397.7 963.0L422.6 977.4L397.7 991.8Z"/>
<path d="M406.7 963.0L431.6 977.4L406.7 991.8Z"/>
<path d="M415.7 964.0L440.6 978.4L415.7 992.8Z"/>
<path d="M425.7 965.0L450.6 979.4L425.7 993.8Z"/>
<path d="M434.7 965.0L459.6 979.4L434.7 993.8Z"/>
<path d="M443.7 966.0L468.6 980.4L443.7 994.8Z"/>
<path d="M452.7 967.0L477.6 981.4L452.7 995.8Z"/>
<path d="M461.7 967.0L486.6 981.4L461.7 995.8Z"/>
<path d="M471.7 967.0L496.6 981.4L471.7 995.8Z"/>
<path d="M480.7 968.0L505.6 982.4L480.7 996.8Z"/>
<path d="M489.7 968.0L514.6 982.4L489.7 996.8Z"/>
<path d="M498.7 968.0L523.6 982.4L498.7 996.8Z"/>
<path d="M507.7 968.0L532.6 982.4L507.7 996.8Z"/>
<path d="M517.7 969.0L542.6 983.4L517.7 997.8Z"/>
<path d="M526.7 969.0L551.6 983.4L526.7 997.8Z"/>
<path d="M535.7 969.0L560.6 983.4L535.7 997.8Z"/>
<path d="M544.7 969.0L569.6 983.4L544.7 997.8Z"/>
<path d="M554.7 970.0L579.6 984.4L554.7 998.8Z"/>
<path d="M563.7 970.0L588.6 984.4L563.7 998.8Z"/>
<path d="M572.7 970.0L597.6 984.4L572.7 998.8Z"/>
<path d="M581.7 970.0L606.6 984.4L581.7 998.8Z"/>
<path d="M590.7 971.0L615.6 985.4L590.7 999.8Z"/>
<path d="M600.7 971.0L625.6 985.4L600.7 999.8Z"/>
<path d="M609.7 971.0L634.6 985.4L609.7 999.8Z"/>
<path d="M618.7 972.0L643.6 986.4L618.7 1000.8Z"/>
<path d="M627.7 972.0L652.6 986.4L627.7 1000.8Z"/>
<path d="M636.7 973.0L661.6 987.4L636.7 1001.8Z"/>
<path d="M646.7 973.0L671.6 987.4L646.7 1001.8Z"/>
<path d="M655.7 973.0L680.6 987.4L655.7 1001.8Z"/>
<path d="M664.7 974.0L689.6 988.4L664.7 1002.8Z"/>
<path d="M673.7 974.0L698.6 988.4L673.7 1002.8Z"/>
<path d="M682.7 974.0L707.6 988.4L682.7 1002.8Z"/>
<path d="M692.7 975.0L717.6 989.4L692.7 1003.8Z"/>
<path d="M701.7 975.0L726.6 989.4L701.7 1003.8Z"/>
<path d="M710.7 976.0L735.6 990.4L710.7 1004.8Z"/>
<path d="M719.7 976.0L744.6 990.4L719.7 1004.8Z"/>
<path d="M728.7 976.0L753.6 990.4L728.7 1004.8Z"/>
<path d="M738.7 977.0L763.6 991.4L738.7 1005.8Z"/>
<path d="M747.7 977.0L772.6 991.4L747.7 1005.8Z"/>
<path d="M756.7 977.0L781.6 991.4L756.7 1005.8Z"/>
<path d="M765.7 978.0L790.6 992.4L765.7 1006.8Z"/>
<path d="M774.7 978.0L799.6 992.4L774.7 1006.8Z"/>
<path d="M784.7 978.0L809.6 992.4L784.7 1006.8Z"/>
<path d="M793.7 979.0L818.6 993.4L793.7 1007.8Z"/>
<path d="M802.7 979.0L827.6 993.4L802.7 1007.8Z"/>
<path d="M811.7 980.0L836.6 994.4L811.7 1008.8Z"/>
<path d="M820.7 980.0L845.6 994.4L820.7 1008.8Z"/>
<path d="M830.7 980.0L855.6 994.4L830.7 1008.8Z"/>
<path d="M839.7 981.0L864.6 995.4L839.7 1009.8Z"/>
<path d="M848.7 981.0L873.6 995.4L848.7 1009.8Z"/>
<path d="M857.7 982.0L882.6 996.4L857.7 1010.8Z"/>
<path d="M866.7 982.0L891.6 996.4L866.7 1010.8Z"/>
<path d="M876.7 983.0L901.6 997.4L876.7 1011.8Z"/>
<path d="M885.7 983.0L910.6 997.4L885.7 1011.8Z"/>
<path d="M894.7 984.0L919.6 998.4L894.7 1012.8Z"/>
<path d="M903.7 984.0L928.6 998.4L903.7 1012.8Z"/>
<path d="M912.7 985.0L937.6 999.4L912.7 1013.8Z"/>
<path d="M922.7 985.0L947.6 999.4L922.7 1013.8Z"/>
<path d="M931.7 985.0L956.6 999.4L931.7 1013.8Z"/>
<path d="M940.7 986.0L965.6 1000.4L940.7 1014.8Z"/>
<path d="M949.7 986.0L974.6 1000.4L949.7 1014.8Z"/>
<path d="M958.7 987.0L983.6 1001.4L958.7 1015.8Z"/>
<path d="M968.7 987.0L993.6 1001.4L968.7 1015.8Z"/>
<path d="M977.7 988.0L1002.6 1002.4L977.7 1016.8Z"/>
<path d="M986.7 988.0L1011.6 1002.4L986.7 1016.8Z"/>
<path d="M995.7 989.0L1020.6 1003.4L995.7 1017.8Z"/>
<path d="M1004.7 989.0L1029.6 1003.4L1004.7 1017.8Z"/>
<path d="M1014.7 990.0L1039.6 1004.4L1014.7 1018.8Z"/>
<path d="M1023.7 990.0L1048.6 1004.4L1023.7 1018.8Z"/>
<path d="M1032.7 991.0L1057.6 1005.4L1032.7 1019.8Z"/>
<path d="M1041.7 991.0L1066.6 1005.4L1041.7 1019.8Z"/>
<path d="M1050.7 992.0L1075.6 1006.4L1050.7 1020.8Z"/>
<path d="M1060.7 992.0L1085.6 1006.4L1060.7 1020.8Z"/>
<path d="M1069.7 992.0L1094.6 1006.4L1069.7 1020.8Z"/>
<path d="M1078.7 993.0L1103.6 1007.4L1078.7 1021.8Z"/>
<path d="M1087.7 993.0L1112.6 1007.4L1087.7 1021.8Z"/>
<path d="M1096.7 994.0L1121.6 1008.4L1096.7 1022.8Z"/>
<path d="M1106.7 995.0L1131.6 1009.4L1106.7 1023.8Z"/>
<path d="M1115.7 995.0L1140.6 1009.4L1115.7 1023.8Z"/>
<path d="M1124.7 996.0L1149.6 1010.4L1124.7 1024.8Z"/>
<path d="M1133.7 997.0L1158.6 1011.4L1133.7 1025.8Z"/>
<path d="M1142.7 997.0L1167.6 1011.4L1142.7 1025.8Z"/>
<path d="M1152.7 998.0L1177.6 1012.4L1152.7 1026.8Z"/>
<path d="M1161.7 998.0L1186.6 1012.4L1161.7 1026.8Z"/>
<path d="M1170.7 999.0L1195.6 1013.4L1170.7 1027.8Z"/>
<path d="M1179.7 1000.0L1204.6 1014.4L1179.7 1028.8Z"/>
<path d="M1188.7 1000.0L1213.6 1014.4L1188.7 1028.8Z"/>
<path d="M1198.7 1001.0L1223.6 1015.4L1198.7 1029.8Z"/>
<path d="M1207.7 1002.0L1232.6 1016.4L1207.7 1030.8Z"/>
<path d="M1216.7 1002.0L1241.6 1016.4L1216.7 1030.8Z"/>
<path d="M1225.7 1003.0L1250.6 1017.4L1225.7 1031.8Z"/>
<path d="M1235.7 1004.0L1260.6 1018.4L1235.7 1032.8Z"/>
<path d="M1244.7 1005.0L1269.6 1019.4L1244.7 1033.8Z"/>
<path d="M1253.7 1006.0L1278.6 1020.4L1253.7 1034.8Z"/>
<path d="M1262.7 1007.0L1287.6 1021.4L1262.7 1035.8Z"/>
<path d="M1271.7 1008.0L1296.6 1022.4L1271.7 1036.8Z"/>
<path d="M1281.7 1009.0L1306.6 1023.4L1281.7 1037.8Z"/>
<path d="M1290.7 1010.0L1315.6 1024.4L1290.7 1038.8Z"/>
<path d="M1299.7 1010.0L1324.6 1024.4L1299.7 1038.8Z"/>
<path d="M1308.7 1011.0L1333.6 1025.4L1308.7 1039.8Z"/>
<path d="M1317.7 1012.0L1342.6 1026.4L1317.7 1040.8Z"/>
<path d="M1327.7 1013.0L1352.6 1027.4L1327.7 1041.8Z"/>
<path d="M1336.7 1014.0L1361.6 1028.4L1336.7 1042.8Z"/>
<path d="M1345.7 1015.0L1370.6 1029.4L1345.7 1043.8Z"/>
<path d="M1354.7 1015.0L1379.6 1029.4L1354.7 1043.8Z"/>
<path d="M1363.7 1018.0L1388.6 1032.4L1363.7 1046.8Z"/>
<path d="M1373.7 1021.0L1398.6 1035.4L1373.7 1049.8Z"/>
<path d="M1382.7 1021.0L1407.6 1035.4L1382.7 1049.8Z"/>
<path d="M1391.7 1021.0L1416.6 1035.4L1391.7 1049.8Z"/>
<path d="M1400.7 1023.0L1425.6 1037.4L1400.7 1051.8Z"/>
<path d="M1409.7 1025.0L1434.6 1039.4L1409.7 1053.8Z"/>
<path d="M1419.7 1028.0L1444.6 1042.4L1419.7 1056.8Z"/>
<path d="M1428.7 1030.0L1453.6 1044.4L1428.7 1058.8Z"/>
<path d="M1437.7 1030.0L1462.6 1044.4L1437.7 1058.8Z"/>
<path d="M1446.7 1036.0L1471.6 1050.4L1446.7 1064.8Z"/>
<path d="M1455.7 1038.0L1480.6 1052.4L1455.7 1066.8Z"/>
<path d="M1465.7 1046.0L1490.6 1060.4L1465.7 1074.8Z"/>
<path d="M1474.7 1048.0L1499.6 1062.4L1474.7 1076.8Z"/>
<path d="M1483.7 1048.0L1508.6 1062.4L1483.7 1076.8Z"/>
<path d="M1492.7 1058.0L1517.6 1072.4L1492.7 1086.8Z"/>
<path d="M1501.7 1061.0L1526.6 1075.4L1501.7 1089.8Z"/>
<path d="M1511.7 1079.0L1536.6 1093.4L1511.7 1107.8Z"/>
<path d="M1520.7 1082.0L1545.6 1096.4L1520.7 1110.8Z"/>
</g></g>
<rect x="1046.3" y="97.6" width="477.70000000000005" height="221.50000000000003" fill="#ffffff" stroke="#262626" stroke-width="2"/>
<g stroke="#000000" fill="none" stroke-miterlimit="10"><path d="M1059 129.4H1153.6" stroke-width="4.9"/><g stroke-width="4.0"><circle cx="1105.8" cy="128.9" r="12.9"/></g></g>
<text transform="translate(1163.7,145.1) scale(1,1.001)" font-family="Liberation Sans, sans-serif" font-size="37.8" fill="#000000">Ideal CCM</text>
<g stroke="#0000ff" fill="none" stroke-miterlimit="10"><path d="M1059 181.9H1153.6" stroke-width="4.9"/><g stroke-width="4.2"><rect x="1095.6" y="172.7" width="20.3" height="20.3"/></g></g>
<text transform="translate(1163.7,197.6) scale(1,1.001)" font-family="Liberation Sans, sans-serif" font-size="37.8" fill="#000000">SBL-CCM</text>
<g stroke="#ff0000" fill="none" stroke-miterlimit="10"><path d="M1059 234.5H1153.6" stroke-width="4.9"/><g stroke-width="4.3"><path d="M1105.8 216.6L1119.5 233.6L1105.8 250.6L1092.1 233.6Z"/></g></g>
<text transform="translate(1163.7,250.2) scale(1,1.001)" font-family="Liberation Sans, sans-serif" font-size="37.8" fill="#000000">100-snapshots CCM</text>
<g stroke="#00ff00" fill="none" stroke-miterlimit="10"><path d="M1059 286.9H1153.6" stroke-width="4.9"/><g stroke-width="4.6"><path d="M1096.5 272.6L1121.4 287.0L1096.5 301.4Z"/></g></g>
<text transform="translate(1163.7,302.6) scale(1,1.001)" font-family="Liberation Sans, sans-serif" font-size="37.8" fill="#000000">10-snapshots CCM</text>
<rect x="437.8" y="66" width="187.8" height="141.6" fill="#ffffed" stroke="#c8c8c8" stroke-width="2"/>
<g font-family="Liberation Sans, sans-serif" font-size="43.3" fill="#000000"><text transform="translate(449.4,124) scale(1,1.005)">X: 23</text><text transform="translate(449.4,185.1) scale(1,1.005)">Y: 30.21</text></g>
<rect x="397.7" y="210.5" width="37.2" height="37.2" fill="#ffffe6"/>
<rect x="401.7" y="214.5" width="29.2" height="29.2" fill="#000000"/>
</svg>
</body></html>
